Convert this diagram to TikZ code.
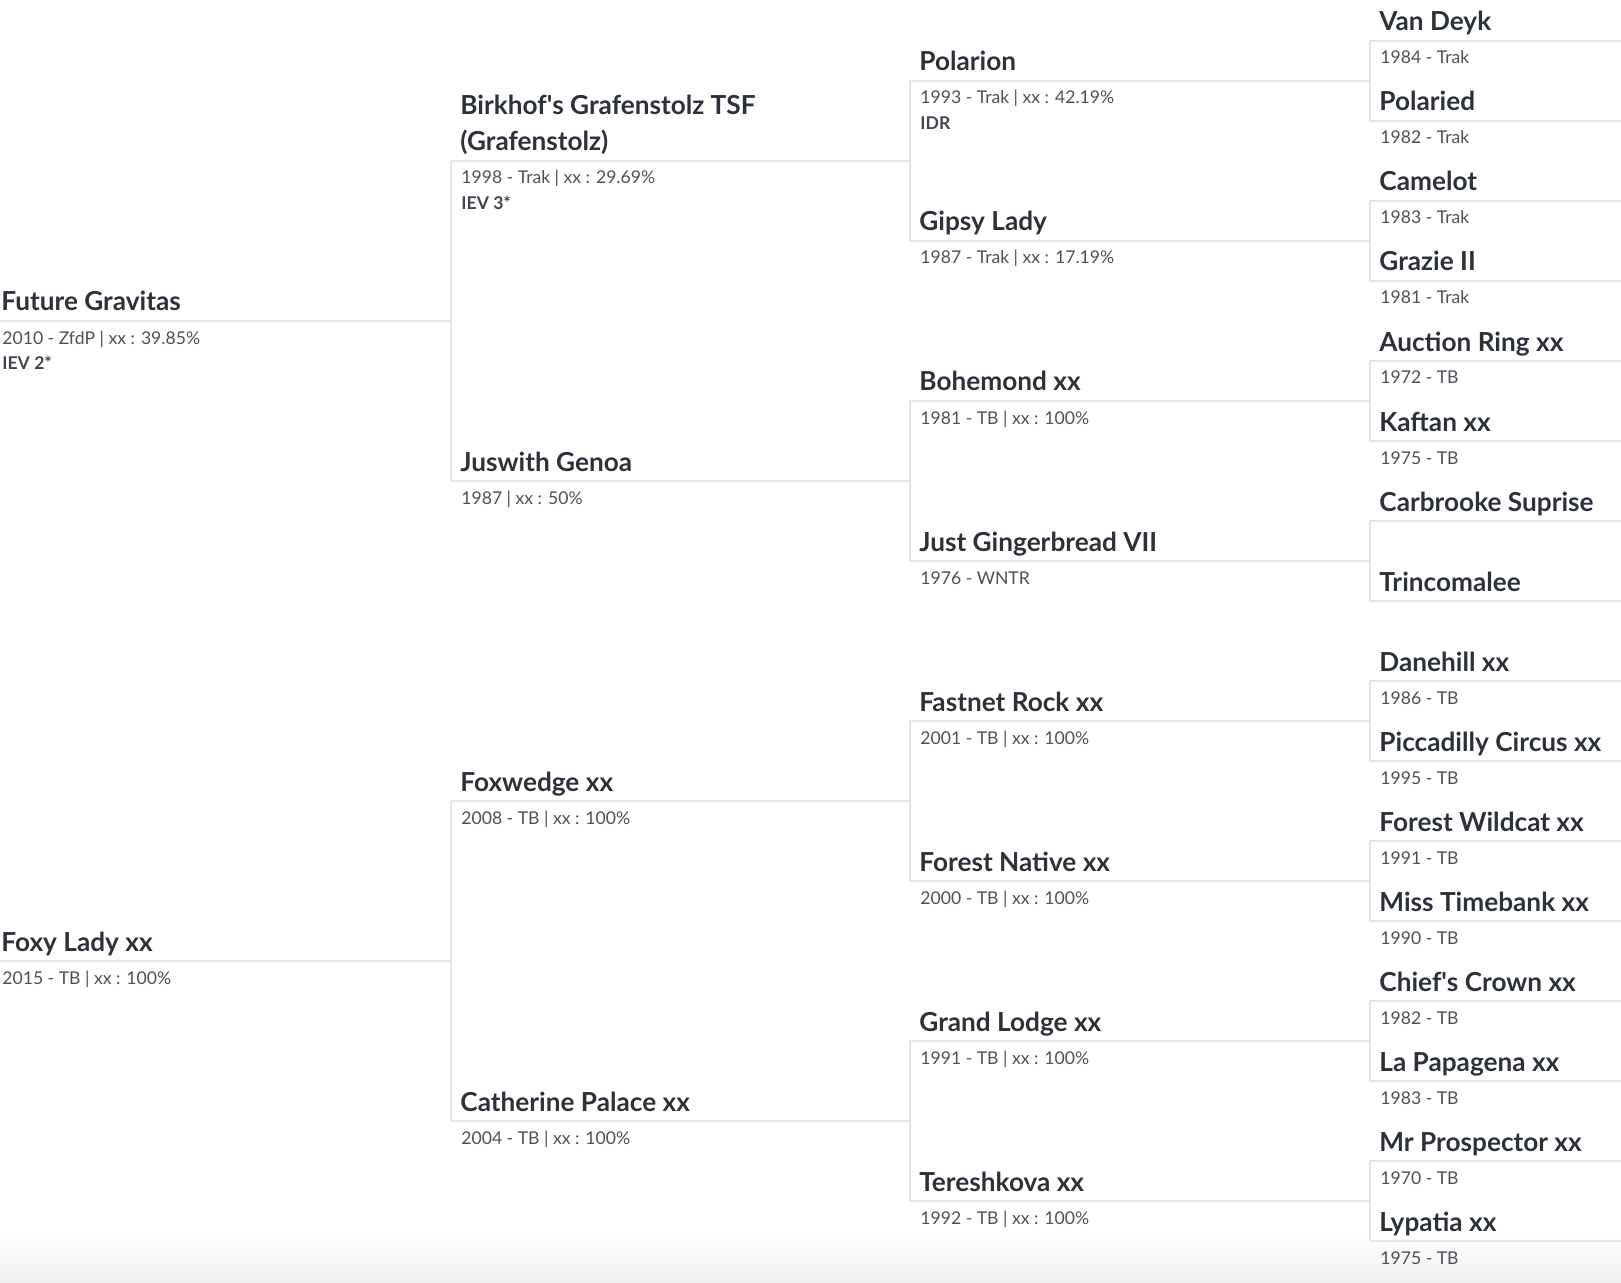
\documentclass[tikz,border=0pt]{standalone}
\usepackage{fontspec}
\setmainfont{Lato}
\usepackage{xcolor}
\usetikzlibrary{calc}

\definecolor{namegray}{HTML}{2C313A}
\definecolor{infogray}{HTML}{4C5158}
\definecolor{linegray}{HTML}{E3E6E9}

% one horse: id, line start x, line end x, line y, name, details
\newcommand{\horse}[6]{%
  \coordinate (#1-l) at (#2,#4);
  \coordinate (#1-r) at (#3,#4);
  \draw[pedline] (#1-l) -- (#1-r);
  \node[horsename] (#1) at ($(#1-l)+(9,-10)$) {#5};
  \node[horseinfo] (#1-info) at ($(#1-l)+(10,23)$) {#6};
}

\begin{document}
\begin{tikzpicture}[x=0.5pt,y=-0.5pt,
    pedline/.style={draw=linegray, line width=1pt},
    horsename/.style={anchor=base west, inner sep=0pt, align=left, text=namegray,
      font=\fontsize{13.1}{18}\selectfont\bfseries},
    horseinfo/.style={anchor=base west, inner sep=0pt, text=infogray,
      font=\fontsize{8.8}{12}\selectfont},
    horsetitle/.style={anchor=base west, inner sep=0pt, text=namegray!90,
      font=\fontsize{8.8}{12}\selectfont\bfseries}]
    \useasboundingbox (0,0) rectangle (1621,1283);
    % faint shade at the bottom
    \shade[top color=white, bottom color=black!6] (0,1232) rectangle (1621,1283);

    % generation 0
    \horse{fg}{-8}{451}{321}{Future Gravitas}{2010 - ZfdP | xx : 39.85\%}
    \horse{fl}{-8}{451}{961}{Foxy Lady xx}{2015 - TB | xx : 100\%}
    \node[horsetitle] (fg-title) at ($(fg-info.base west)+(0,26)$) {IEV 2*};

    % generation 1
    \horse{bg}{451}{910}{161}{Birkhof\textquotesingle s Grafenstolz TSF\\(Grafenstolz)}{1998 - Trak | xx : 29.69\%}
    \horse{jg}{451}{910}{481}{Juswith Genoa}{1987 | xx : 50\%}
    \horse{fw}{451}{910}{801}{Foxwedge xx}{2008 - TB | xx : 100\%}
    \horse{cp}{451}{910}{1121}{Catherine Palace xx}{2004 - TB | xx : 100\%}
    \node[horsetitle] (bg-title) at ($(bg-info.base west)+(0,26)$) {IEV 3*};
    \draw[pedline] (bg-l) -- (jg-l);
    \draw[pedline] (fw-l) -- (cp-l);

    % generation 2
    \horse{po}{910}{1370}{81}{Polarion}{1993 - Trak | xx : 42.19\%}
    \horse{gl}{910}{1370}{241}{Gipsy Lady}{1987 - Trak | xx : 17.19\%}
    \horse{bo}{910}{1370}{401}{Bohemond xx}{1981 - TB | xx : 100\%}
    \horse{jgb}{910}{1370}{561}{Just Gingerbread VII}{1976 - WNTR}
    \horse{fr}{910}{1370}{721}{Fastnet Rock xx}{2001 - TB | xx : 100\%}
    \horse{fn}{910}{1370}{881}{Forest Native xx}{2000 - TB | xx : 100\%}
    \horse{gd}{910}{1370}{1041}{Grand Lodge xx}{1991 - TB | xx : 100\%}
    \horse{te}{910}{1370}{1201}{Tereshkova xx}{1992 - TB | xx : 100\%}
    \node[horsetitle] (po-title) at ($(po-info.base west)+(0,26)$) {IDR};
    \draw[pedline] (po-l) -- (gl-l);
    \draw[pedline] (bo-l) -- (jgb-l);
    \draw[pedline] (fr-l) -- (fn-l);
    \draw[pedline] (gd-l) -- (te-l);

    % generation 3
    \horse{vd}{1370}{1630}{41}{Van Deyk}{1984 - Trak}
    \horse{pd}{1370}{1630}{121}{Polaried}{1982 - Trak}
    \horse{ca}{1370}{1630}{201}{Camelot}{1983 - Trak}
    \horse{gz}{1370}{1630}{281}{Grazie II}{1981 - Trak}
    \horse{ar}{1370}{1630}{361}{Auction Ring xx}{1972 - TB}
    \horse{kf}{1370}{1630}{441}{Kaftan xx}{1975 - TB}
    \horse{cs}{1370}{1630}{521}{Carbrooke Suprise}{}
    \horse{tr}{1370}{1630}{601}{Trincomalee}{}
    \horse{dh}{1370}{1630}{681}{Danehill xx}{1986 - TB}
    \horse{pc}{1370}{1630}{761}{Piccadilly Circus xx}{1995 - TB}
    \horse{fwc}{1370}{1630}{841}{Forest Wildcat xx}{1991 - TB}
    \horse{mt}{1370}{1630}{921}{Miss Timebank xx}{1990 - TB}
    \horse{cc}{1370}{1630}{1001}{Chief\textquotesingle s Crown xx}{1982 - TB}
    \horse{lp}{1370}{1630}{1081}{La Papagena xx}{1983 - TB}
    \horse{mp}{1370}{1630}{1161}{Mr Prospector xx}{1970 - TB}
    \horse{ly}{1370}{1630}{1241}{Lypatia xx}{1975 - TB}
    \draw[pedline] (vd-l) -- (pd-l);
    \draw[pedline] (ca-l) -- (gz-l);
    \draw[pedline] (ar-l) -- (kf-l);
    \draw[pedline] (cs-l) -- (tr-l);
    \draw[pedline] (dh-l) -- (pc-l);
    \draw[pedline] (fwc-l) -- (mt-l);
    \draw[pedline] (cc-l) -- (lp-l);
    \draw[pedline] (mp-l) -- (ly-l);
\end{tikzpicture}
\end{document}
